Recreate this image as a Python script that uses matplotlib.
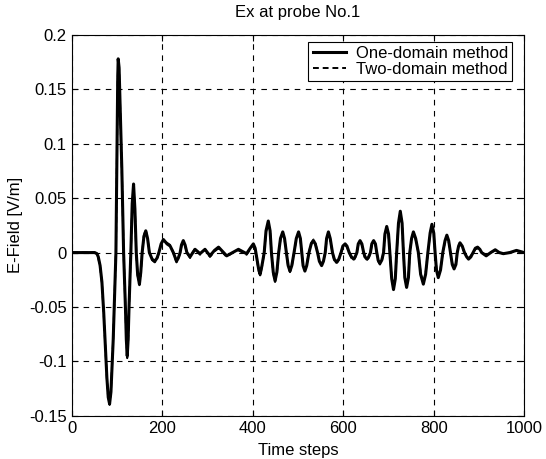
import matplotlib
matplotlib.use("Agg")
import matplotlib.pyplot as plt

plt.rcParams['font.family'] = ['Liberation Sans', 'DejaVu Sans']

# time step samples, 10 per line so the lists line up
steps = [0, 50, 55, 58, 62, 66, 70, 73, 77, 80,
         83, 86, 89, 91, 94, 97, 99, 101, 102, 104,
         106, 110, 114, 118, 120, 122, 124, 126, 130, 133,
         136, 139, 142, 145, 149, 152, 155, 159, 163, 167,
         171, 177, 183, 188, 192, 197, 202, 210, 217, 224,
         231, 235, 239, 242, 246, 250, 254, 261, 267, 272,
         283, 294, 305, 315, 324, 333, 342, 355, 368, 386,
         394, 401, 405, 409, 413, 416, 420, 425, 429, 434,
         438, 441, 445, 449, 453, 457, 461, 466, 470, 474,
         478, 482, 486, 491, 496, 501, 505, 508, 511, 515,
         519, 524, 529, 534, 538, 543, 547, 552, 556, 560,
         563, 567, 571, 576, 580, 585, 590, 595, 599, 604,
         608, 613, 618, 623, 626, 630, 633, 637, 641, 645,
         648, 652, 656, 660, 663, 667, 671, 674, 677, 681,
         685, 689, 692, 696, 700, 703, 707, 711, 715, 718,
         722, 726, 730, 733, 736, 740, 744, 747, 751, 755,
         760, 766, 771, 777, 782, 787, 792, 796, 800, 803,
         806, 810, 815, 820, 825, 829, 833, 837, 841, 845,
         849, 852, 855, 858, 863, 868, 873, 877, 882, 887,
         892, 897, 902, 906, 916, 926, 936, 945, 954, 968,
         983, 1000]

e_one = [0.0, 0.0, -0.001, -0.004, -0.012, -0.027, -0.055, -0.08, -0.115, -0.133,
         -0.139, -0.128, -0.1, -0.08, -0.04, 0.0, 0.078, 0.16, 0.178, 0.17,
         0.14, 0.078, 0.0, -0.05, -0.08, -0.095, -0.08, -0.05, 0.0, 0.045,
         0.063, 0.04, 0.0, -0.02, -0.029, -0.018, 0.0, 0.015, 0.02, 0.013,
         0.0, -0.006, -0.008, -0.005, 0.0, 0.008, 0.012, 0.008, 0.006, 0.0,
         -0.008, -0.005, 0.0, 0.007, 0.011, 0.007, 0.0, -0.004, 0.0, 0.003,
         -0.001, 0.003, -0.003, 0.002, 0.005, 0.001, -0.003, 0.0, 0.003, -0.001,
         0.004, 0.008, 0.004, -0.006, -0.016, -0.02, -0.012, 0.0, 0.02, 0.029,
         0.02, 0.0, -0.018, -0.026, -0.018, 0.0, 0.013, 0.019, 0.013, 0.0,
         -0.012, -0.017, -0.012, 0.0, 0.013, 0.019, 0.013, 0.0, -0.012, -0.017,
         -0.012, 0.0, 0.008, 0.011, 0.008, 0.0, -0.008, -0.012, -0.008, 0.0,
         0.013, 0.019, 0.013, 0.0, -0.006, -0.009, -0.006, 0.0, 0.006, 0.008,
         0.006, 0.0, -0.004, -0.006, -0.004, 0.0, 0.008, 0.011, 0.008, 0.0,
         -0.004, -0.006, -0.004, 0.0, 0.008, 0.011, 0.008, 0.0, -0.007, -0.01,
         -0.007, 0.0, 0.017, 0.024, 0.017, 0.0, -0.024, -0.034, -0.024, 0.0,
         0.027, 0.038, 0.027, 0.0, -0.023, -0.032, -0.023, 0.0, 0.013, 0.019,
         0.013, 0.0, -0.02, -0.029, -0.02, 0.0, 0.018, 0.026, 0.018, 0.0,
         -0.016, -0.023, -0.016, 0.0, 0.011, 0.016, 0.011, 0.0, -0.011, -0.015,
         -0.011, 0.0, 0.006, 0.009, 0.006, 0.0, -0.004, -0.006, -0.004, 0.0,
         0.004, 0.005, 0.003, 0.0, -0.003, 0.0, 0.0026, 0.0, -0.001, 0.0,
         0.002, 0.0]

e_two = [0.0, 0.0, -0.001, -0.005, -0.013, -0.028, -0.056, -0.081, -0.116, -0.134,
         -0.140, -0.127, -0.099, -0.079, -0.039, 0.0, 0.077, 0.158, 0.176, 0.169,
         0.139, 0.077, 0.0, -0.051, -0.081, -0.097, -0.081, -0.049, 0.0, 0.044,
         0.061, 0.039, 0.0, -0.021, -0.030, -0.019, 0.0, 0.016, 0.021, 0.013,
         0.0, -0.007, -0.009, -0.006, 0.0, 0.007, 0.010, 0.009, 0.007, 0.0,
         -0.009, -0.006, 0.0, 0.006, 0.010, 0.006, 0.0, -0.005, 0.0, 0.004,
         -0.002, 0.003, -0.004, 0.001, 0.004, 0.0, -0.004, 0.0, 0.002, -0.002,
         0.003, 0.007, 0.003, -0.007, -0.017, -0.021, -0.013, 0.0, 0.019, 0.027,
         0.019, 0.0, -0.019, -0.027, -0.019, 0.0, 0.012, 0.018, 0.012, 0.0,
         -0.013, -0.018, -0.013, 0.0, 0.012, 0.018, 0.012, 0.0, -0.011, -0.016,
         -0.011, 0.0, 0.009, 0.012, 0.009, 0.0, -0.007, -0.011, -0.007, 0.0,
         0.012, 0.018, 0.012, 0.0, -0.007, -0.010, -0.007, 0.0, 0.005, 0.007,
         0.005, 0.0, -0.005, -0.007, -0.005, 0.0, 0.007, 0.010, 0.007, 0.0,
         -0.005, -0.007, -0.005, 0.0, 0.007, 0.010, 0.007, 0.0, -0.008, -0.011,
         -0.008, 0.0, 0.016, 0.023, 0.016, 0.0, -0.023, -0.033, -0.023, 0.0,
         0.026, 0.036, 0.026, 0.0, -0.022, -0.031, -0.022, 0.0, 0.012, 0.018,
         0.012, 0.0, -0.019, -0.028, -0.019, 0.0, 0.017, 0.025, 0.017, 0.0,
         -0.015, -0.022, -0.015, 0.0, 0.010, 0.015, 0.010, 0.0, -0.010, -0.014,
         -0.010, 0.0, 0.005, 0.008, 0.005, 0.0, -0.004, -0.005, -0.003, 0.0,
         0.003, 0.004, 0.002, 0.0, -0.002, 0.0, 0.002, 0.0, -0.001, 0.0,
         0.001, 0.0]

fig = plt.figure(figsize=(5.46, 4.59), dpi=100)
ax = fig.add_axes([0.132, 0.094, 0.828, 0.830])

ax.plot(steps, e_one, color='black', lw=2.2, solid_joinstyle='round',
        label='One-domain method')
ax.plot(steps, e_two, color='black', lw=1.4, linestyle=(0, (3, 2)),
        label='Two-domain method')

ax.set_xlim(0, 1000)
ax.set_ylim(-0.15, 0.2)
ax.set_xticks([0, 200, 400, 600, 800, 1000])
ax.set_yticks([-0.15, -0.1, -0.05, 0, 0.05, 0.1, 0.15, 0.2])
ax.set_yticklabels(['-0.15', '-0.1', '-0.05', '0', '0.05', '0.1', '0.15', '0.2'])
ax.tick_params(direction='in', top=True, right=True, labelsize=12, length=4,
               pad=4)
ax.grid(True, color='black', linestyle=(0, (5, 5)), lw=0.8)

ax.set_title('Ex at probe No.1', fontsize=12, pad=13)
ax.set_xlabel('Time steps', fontsize=12, labelpad=5)
ax.set_ylabel('E-Field [V/m]', fontsize=12, labelpad=4)

leg = ax.legend(loc='upper right', bbox_to_anchor=(0.974, 0.982), fontsize=12,
                fancybox=False, edgecolor='black', framealpha=1,
                handlelength=2.0, handletextpad=0.6, borderpad=0.25,
                borderaxespad=0, labelspacing=0.05)
leg.get_frame().set_linewidth(0.8)

fig.savefig('out.png', dpi=100)
